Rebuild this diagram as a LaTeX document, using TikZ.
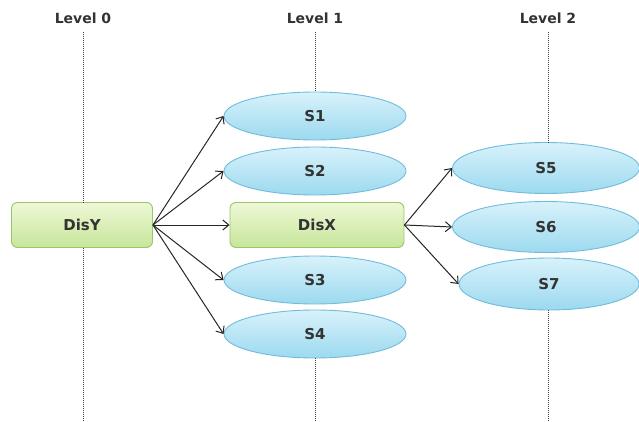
\documentclass[tikz,border=0pt]{standalone}
\usepackage{fontspec}
\setmainfont{DejaVu Sans}
\usetikzlibrary{shapes.geometric,arrows.meta}

\definecolor{boxtop}{HTML}{EEF8D6}
\definecolor{boxbot}{HTML}{C6E69A}
\definecolor{boxline}{HTML}{9CC46C}
\definecolor{elltop}{HTML}{D8F2FB}
\definecolor{ellbot}{HTML}{9CD9EF}
\definecolor{ellline}{HTML}{6FBCDB}

\tikzset{
  disbox/.style={draw=boxline, line width=0.9pt, rounded corners=6pt, top color=boxtop, bottom color=boxbot,
    minimum height=45pt, inner sep=0pt, font=\fontsize{15}{17}\selectfont\bfseries, text=black!80},
  subell/.style={ellipse, draw=ellline, line width=0.9pt, top color=elltop, bottom color=ellbot,
    minimum width=182pt, minimum height=48pt, inner sep=0pt, font=\fontsize{15}{17}\selectfont\bfseries, text=black!80},
  lvlline/.style={densely dotted, line width=1pt, black!75},
  lvltext/.style={font=\fontsize{14}{16}\selectfont\bfseries, text=black!80},
  link/.style={-{Straight Barb[length=6pt,width=10pt]}, line width=1pt, black!85},
}

\begin{document}
\begin{tikzpicture}[x=1pt,y=-1pt]
\useasboundingbox (0,0) rectangle (639,422);
% level heads
\node[lvltext] (l0) at (83,18) {Level 0};
\node[lvltext] (l1) at (315,18) {Level 1};
\node[lvltext] (l2) at (548,18) {Level 2};
% boxes
\node[disbox, minimum width=141pt] (disy) at (82,225) {DisY};
\node[disbox, minimum width=174pt] (disx) at (317,225) {DisX};
\node[subell] (s1) at (315,116) {S1};
\node[subell] (s2) at (315,171) {S2};
\node[subell] (s3) at (315,280) {S3};
\node[subell] (s4) at (315,334) {S4};
\node[subell, minimum width=187pt, minimum height=51pt] (s5) at (546,168) {S5};
\node[subell, minimum width=187pt, minimum height=51pt] (s6) at (546,227) {S6};
\node[subell, minimum width=180pt, minimum height=52pt] (s7) at (549,284) {S7};
% dotted level lines
\coordinate (b0) at (83,422);
\coordinate (b1) at (315,422);
\coordinate (b2) at (548,422);
\draw[lvlline] (l0.south |- 0,32) -- (disy.north -| l0);
\draw[lvlline] (disy.south -| l0) -- (b0);
\draw[lvlline] (l1.south |- 0,32) -- (s1.north);
\draw[lvlline] (s4.south) -- (b1);
\draw[lvlline] (l2.south |- 0,32) -- (s5.north -| l2);
\draw[lvlline] (s7.south -| l2) -- (b2);
% arrows
\draw[link] (disy.east) -- (s1.west);
\draw[link] (disy.east) -- (s2.west);
\draw[link] (disy.east) -- (disx.west);
\draw[link] (disy.east) -- (s3.west);
\draw[link] (disy.east) -- (s4.west);
\draw[link] (disx.east) -- (s5.west);
\draw[link] (disx.east) -- (s6.west);
\draw[link] (disx.east) -- (s7.west);
\end{tikzpicture}
\end{document}
